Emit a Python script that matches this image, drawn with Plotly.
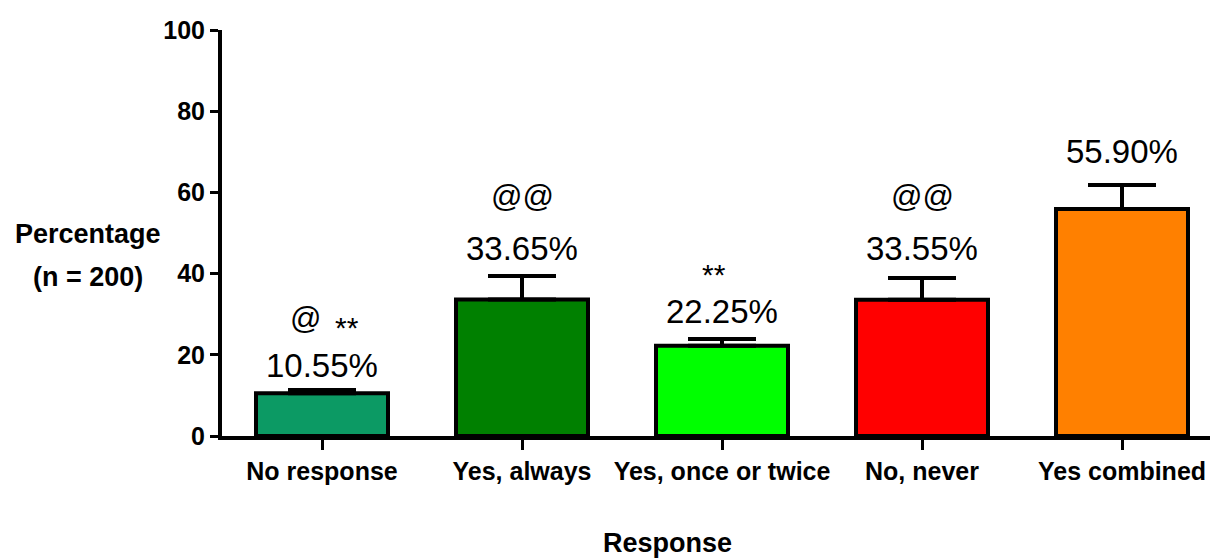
import plotly.graph_objects as go

# ---- data ----
categories = ["No response", "Yes, always", "Yes, once or twice", "No, never", "Yes combined"]
values = [10.55, 33.65, 22.25, 33.55, 55.90]
errors = [0.8, 5.75, 1.65, 5.35, 5.9]
at_marks = ["@", "@@", "", "@@", ""]
star_marks = ["**", "", "**", "", ""]
y_ticks = [0, 20, 40, 60, 80, 100]

# ---- style ----
colors = ["#0C9A64", "#008000", "#00FF00", "#FF0000", "#FF8000"]
NARROW = "Liberation Sans Narrow, Liberation Sans, Arial, sans-serif"
SANS = "Liberation Sans, Arial, sans-serif"
value_shift = [24, 28, 27, 30, 34]
at_shift = [71, 80, 0, 82, 0]
at_xshift = [-17, 0, 0, 0, 0]
star_shift = [62, 0, 64, 0, 0]
star_xshift = [25, 0, -8, 0, 0]

fig = go.Figure()
fig.add_trace(go.Bar(
    x=categories, y=values, width=0.66,
    marker=dict(color=colors, line=dict(color="black", width=4)),
    error_y=dict(type="data", symmetric=False, array=errors,
                 arrayminus=[0] * len(errors), color="black",
                 thickness=4, width=34),
    showlegend=False, hoverinfo="x+y",
))

annotations = []
for i, (c, v, e) in enumerate(zip(categories, values, errors)):
    top = v + e
    annotations.append(dict(x=c, y=top, xref="x", yref="y", text=f"{v:.2f}%",
                            showarrow=False, yanchor="middle", yshift=value_shift[i],
                            font=dict(family=NARROW, size=33, color="black")))
    if at_marks[i]:
        annotations.append(dict(x=c, y=top, xref="x", yref="y", text=at_marks[i],
                                showarrow=False, yanchor="middle", yshift=at_shift[i],
                                xshift=at_xshift[i],
                                font=dict(family=NARROW, size=31, color="black")))
    if star_marks[i]:
        annotations.append(dict(x=c, y=top, xref="x", yref="y", text=star_marks[i],
                                showarrow=False, yanchor="middle", yshift=star_shift[i],
                                xshift=star_xshift[i],
                                font=dict(family=NARROW, size=30, color="black")))

# axis titles
annotations.append(dict(x=-0.1356, y=0.4975, xref="paper", yref="paper", text="<b>Percentage</b>",
                        showarrow=False, xanchor="center", yanchor="middle",
                        font=dict(family=SANS, size=27, color="black")))
annotations.append(dict(x=-0.1356, y=0.392, xref="paper", yref="paper", text="<b>(n = 200)</b>",
                        showarrow=False, xanchor="center", yanchor="middle",
                        font=dict(family=SANS, size=27, color="black")))
annotations.append(dict(x=0.451, y=-0.2635, xref="paper", yref="paper", text="<b>Response</b>",
                        showarrow=False, xanchor="center", yanchor="middle",
                        font=dict(family=SANS, size=27, color="black")))

fig.update_layout(
    width=1210, height=558,
    margin=dict(l=222, r=0, t=30, b=122, pad=0),
    plot_bgcolor="white", paper_bgcolor="white",
    annotations=annotations,
    xaxis=dict(type="category", range=[-0.5, 4.44], showline=True, linecolor="black",
               linewidth=4, ticks="outside", ticklen=10, tickwidth=3, tickcolor="black",
               showgrid=False, zeroline=False, tickangle=0, automargin=False,
               tickfont=dict(family=NARROW, size=25, color="black", weight="bold")),
    yaxis=dict(range=[0, 100], tickvals=y_ticks, showline=True, linecolor="black",
               linewidth=4, ticks="outside", ticklen=8, tickwidth=3, tickcolor="black",
               showgrid=False, zeroline=False, automargin=False,
               tickfont=dict(family=NARROW, size=25, color="black", weight="bold")),
)

fig.write_html("out.html")
